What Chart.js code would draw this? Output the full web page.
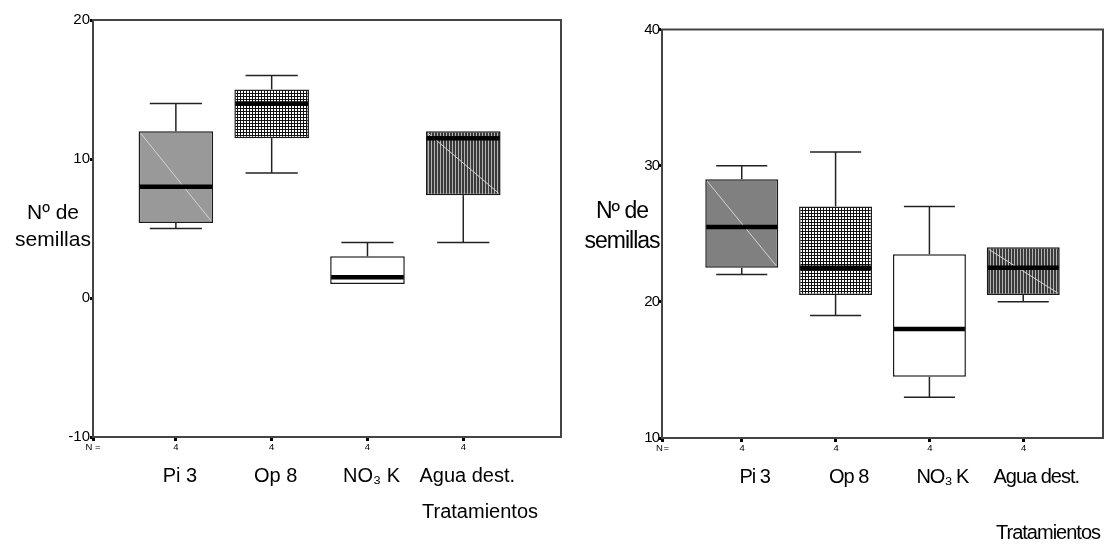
<!DOCTYPE html>
<html>
<head>
<meta charset="utf-8">
<script src="https://cdn.jsdelivr.net/npm/chart.js@4.4.1/dist/chart.umd.min.js"></script>
<style>
body{margin:0;background:#fff;width:1115px;height:546px;overflow:hidden;position:relative}
.caja{position:absolute;top:0;height:546px}
#wrap-a{left:0;width:565px}
#wrap-b{left:565px;width:550px}
</style>
</head>
<body>
<div class="caja" id="wrap-a"><canvas id="chart-a"></canvas></div>
<div class="caja" id="wrap-b"><canvas id="chart-b"></canvas></div>
<script>
const tratamientos = ['Pi 3', 'Op 8', 'NO₃ K', 'Agua dest.']
const nCasos = [4, 4, 4, 4]

// primer ensayo (izquierda)
const minA = [5, 9, 1, 4]
const q1A = [5.4, 11.5, 1, 7.4]
const medianaA = [8, 14, 1.5, 11.5]
const q3A = [12, 15, 3, 12]
const maxA = [14, 16, 4, 12]
const ticksA = [-10, 0, 10, 20]

// segundo ensayo (derecha)
const minB = [22, 19, 13, 20]
const q1B = [22.5, 20.5, 14.5, 20.5]
const medianaB = [25.5, 22.5, 18, 22.5]
const q3B = [29, 27, 23.5, 24]
const maxB = [30, 31, 27, 24]
const ticksB = [10, 20, 30, 40]

const tituloY = ['Nº de', 'semillas']
const tituloX = 'Tratamientos'

const fuente = '"Liberation Sans", Arial, sans-serif'
Chart.defaults.font.family = fuente
Chart.defaults.color = '#000'

function patron(w, h, dibujar){
    const c = document.createElement('canvas')
    c.width = w
    c.height = h
    const ctx = c.getContext('2d')
    dibujar(ctx)
    return ctx.createPattern(c, 'repeat')
}
const cuadricula = patron(3, 3, ctx => {
    ctx.fillStyle = '#fff'
    ctx.fillRect(0, 0, 3, 3)
    ctx.fillStyle = '#111'
    ctx.fillRect(0, 0, 3, 1)
    ctx.fillRect(0, 0, 1, 3)
})
const rayas = patron(3, 1, ctx => {
    ctx.fillStyle = '#b4b4b4'
    ctx.fillRect(0, 0, 3, 1)
    ctx.fillStyle = '#3a3a3a'
    ctx.fillRect(0, 0, 2, 1)
})

function linea(ctx, x1, y1, x2, y2){
    ctx.beginPath()
    ctx.moveTo(x1, y1)
    ctx.lineTo(x2, y2)
    ctx.stroke()
}

// bigotes, medianas y marco
const cajas = {
    id: 'cajas',
    beforeDatasetsDraw(chart){
        const {ctx, chartArea: a} = chart
        ctx.save()
        ctx.strokeStyle = '#444'
        ctx.lineWidth = 2
        ctx.strokeRect(a.left, a.top, a.width, a.height)
        ctx.restore()
    },
    afterDatasetsDraw(chart, args, opts){
        const {ctx} = chart
        const y = chart.scales.y
        ctx.save()
        chart.getDatasetMeta(0).data.forEach((bar, i) => {
            const {x, width} = bar.getProps(['x', 'width'], true)
            const l = x - width / 2, r = x + width / 2
            const top = y.getPixelForValue(opts.q3[i])
            const bot = y.getPixelForValue(opts.q1[i])
            if (opts.diagonal[i]) {
                ctx.strokeStyle = '#d4d4d4'
                ctx.lineWidth = 1
                linea(ctx, l + 2, top + 2, r - 2, bot - 2)
            }
            ctx.strokeStyle = '#222'
            ctx.lineWidth = 1.5
            const cap = width * 0.35
            ;[[opts.max[i], opts.q3[i]], [opts.min[i], opts.q1[i]]].forEach(([w, h]) => {
                if (w === h) return
                const py = y.getPixelForValue(w)
                linea(ctx, x, py, x, y.getPixelForValue(h))
                linea(ctx, x - cap, py, x + cap, py)
            })
            ctx.strokeStyle = '#000'
            ctx.lineWidth = 4.5
            const pm = y.getPixelForValue(opts.mediana[i])
            linea(ctx, l + 1, pm, r - 1, pm)
        })
        ctx.restore()
    }
}

// titulo del eje y en horizontal y titulo del eje x
const rotulos = {
    id: 'rotulos',
    afterDraw(chart, args, opts){
        const {ctx, chartArea: a} = chart
        ctx.save()
        ctx.fillStyle = '#000'
        ctx.textBaseline = 'middle'
        ctx.font = opts.tamY + 'px ' + fuente
        ctx.textAlign = 'center'
        tituloY.forEach((t, i) => ctx.fillText(t, a.left - 40, opts.y[i]))
        ctx.font = '20px ' + fuente
        ctx.textAlign = 'right'
        ctx.fillText(tituloX, a.right - opts.margenX, opts.yX)
        ctx.restore()
    }
}

const condensado = {
    id: 'condensado',
    beforeLayout(chart){ chart.ctx.letterSpacing = '-1px' },
    beforeDraw(chart){ chart.ctx.letterSpacing = '-1px' }
}

function crearGrafico(id, d){
    return new Chart(document.getElementById(id), {
        type: 'bar',
        data: {
            datasets: [{
                data: d.q1.map((v, i) => ({x: i + 1, y: [v, d.q3[i]]})),
                backgroundColor: d.rellenos,
                borderColor: '#1a1a1a',
                borderWidth: 1.5,
                borderSkipped: false,
                barPercentage: d.anchoCaja,
                categoryPercentage: 1
            }]
        },
        options: {
            responsive: true,
            maintainAspectRatio: false,
            animation: false,
            layout: {padding: d.padding},
            plugins: {
                legend: {display: false},
                tooltip: {enabled: false},
                cajas: {min: d.min, q1: d.q1, mediana: d.mediana, q3: d.q3, max: d.max, diagonal: [true, false, false, true]},
                rotulos: d.rotulos
            },
            scales: {
                x: {
                    type: 'linear', min: d.xMin, max: d.xMax, offset: false, weight: 0,
                    border: {display: true, color: '#000', width: 2},
                    grid: {drawOnChartArea: false, offset: false, tickLength: 4, tickWidth: 3, tickColor: '#000'},
                    afterBuildTicks: s => { s.ticks = [s.min].concat(nCasos.map((n, i) => i + 1)).map(v => ({value: v})) },
                    ticks: {font: {size: 9.5}, padding: 1, autoSkip: false, maxRotation: 0,
                        callback: v => v < 1 ? 'N =' : nCasos[Math.round(v) - 1]},
                    afterFit: s => { s.height = 20 }
                },
                x2: {
                    type: 'linear', position: 'bottom', min: d.xMin, max: d.xMax, offset: false, weight: 1,
                    border: {display: false},
                    grid: {display: false, drawTicks: false},
                    afterBuildTicks: s => { s.ticks = tratamientos.map((t, i) => ({value: i + 1})) },
                    ticks: {font: {size: 20}, padding: 7, autoSkip: false, maxRotation: 0, labelOffset: d.desplaza,
                        callback: v => tratamientos[Math.round(v) - 1]},
                    afterFit: s => { s.height = d.altoX2 }
                },
                y: {
                    min: d.yTicks[0], max: d.yTicks[d.yTicks.length - 1],
                    border: {display: true, color: '#000', width: 2},
                    grid: {drawOnChartArea: false, tickLength: 3, tickWidth: 3, tickColor: '#000'},
                    afterBuildTicks: s => { s.ticks = d.yTicks.map(v => ({value: v})) },
                    ticks: {font: {size: 15}, padding: 0},
                    afterFit: s => { s.width = d.anchoY }
                }
            }
        },
        plugins: [cajas, rotulos].concat(d.extra || [])
    })
}

crearGrafico('chart-a', {
    min: minA, q1: q1A, mediana: medianaA, q3: q3A, max: maxA, yTicks: ticksA,
    rellenos: ['#999999', cuadricula, '#ffffff', rayas],
    xMin: 0.135, xMax: 5.02, anchoY: 93, altoX2: 89, anchoCaja: 0.9, desplaza: 4,
    padding: {left: 0, right: 4, top: 20, bottom: 0},
    rotulos: {y: [213, 240], tamY: 21, margenX: 23, yX: 512}
})

crearGrafico('chart-b', {
    min: minB, q1: q1B, mediana: medianaB, q3: q3B, max: maxB, yTicks: ticksB,
    rellenos: ['#808080', cuadricula, '#ffffff', rayas],
    xMin: 0.15, xMax: 4.85, anchoY: 97, altoX2: 88, anchoCaja: 0.915, desplaza: 13,
    padding: {left: 0, right: 12, top: 29.5, bottom: 0},
    rotulos: {y: [212, 242], tamY: 23, margenX: 3, yX: 533},
    extra: [condensado]
})
</script>
</body>
</html>
